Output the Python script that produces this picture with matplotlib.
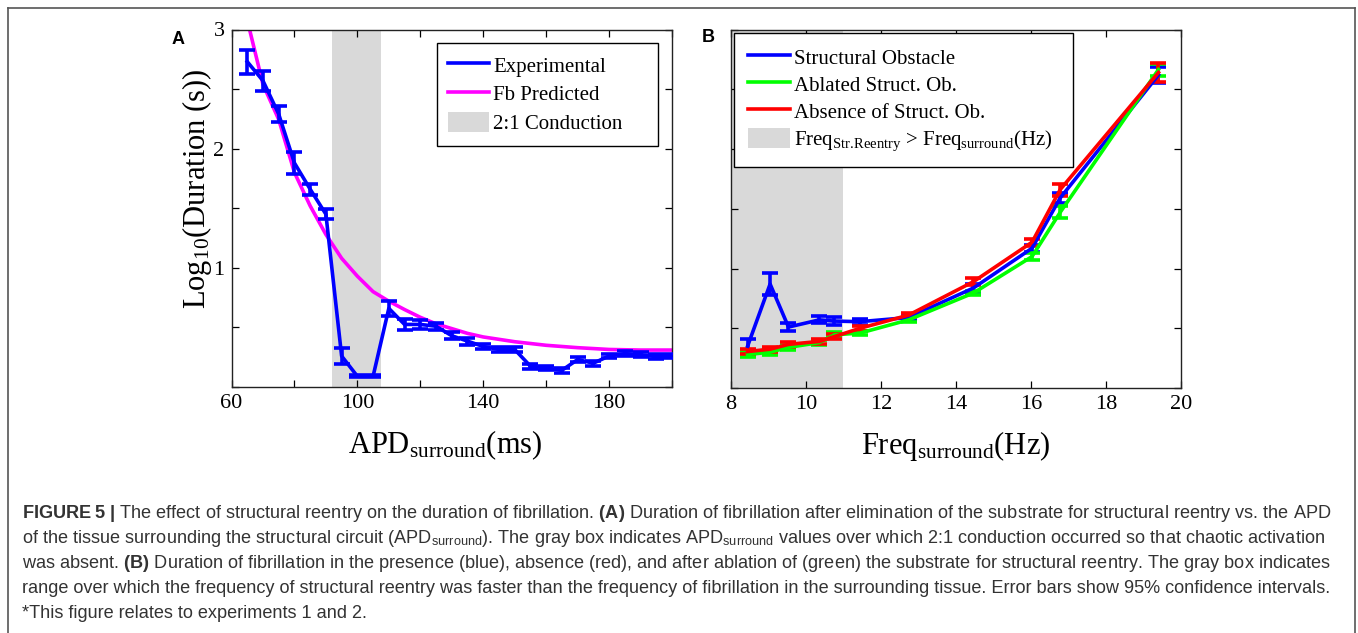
import matplotlib
matplotlib.use('Agg')
import matplotlib.pyplot as plt
from matplotlib.lines import Line2D
from matplotlib.patches import Patch

# ---------------- data: panel A ----------------
apd = [65, 70, 75, 80, 85, 90, 95, 100, 105, 110, 115, 120, 125, 130, 135,
       140, 145, 150, 155, 160, 165, 170, 175, 180, 185, 190, 195, 200]
dur_exp = [2.73, 2.57, 2.29, 1.88, 1.66, 1.45, 0.26, 0.09, 0.09, 0.66, 0.525,
           0.525, 0.51, 0.43, 0.385, 0.34, 0.315, 0.315, 0.175, 0.16, 0.14,
           0.23, 0.20, 0.26, 0.28, 0.27, 0.255, 0.26]
dur_exp_err = [0.10, 0.085, 0.065, 0.09, 0.045, 0.04, 0.07, 0.01, 0.01, 0.065,
               0.045, 0.035, 0.03, 0.03, 0.03, 0.02, 0.02, 0.02, 0.02, 0.02,
               0.02, 0.02, 0.02, 0.02, 0.02, 0.02, 0.02, 0.02]
apd_pred = [65, 70, 75, 80, 85, 90, 95, 100, 105, 110, 115, 120, 125, 130,
            135, 140, 150, 160, 170, 180, 190, 200]
dur_pred = [3.08, 2.54, 2.245, 1.80, 1.52, 1.28, 1.08, 0.93, 0.80, 0.72, 0.65,
            0.585, 0.53, 0.49, 0.45, 0.42, 0.38, 0.35, 0.33, 0.315, 0.31, 0.31]
band_a = [92, 107.5]
xticks_a = [60, 80, 100, 120, 140, 160, 180, 200]
xlabels_a = ['60', '', '100', '', '140', '', '180', '']
yticks = [0, 0.5, 1, 1.5, 2, 2.5, 3]
ylabels_a = ['', '', '1', '', '2', '', '3']

# ---------------- data: panel B ----------------
freq = [8.45, 9.05, 9.54, 10.36, 10.76, 11.45, 12.74, 14.47, 16.03, 16.78, 19.4]
dur_struct = [0.35, 0.87, 0.51, 0.57, 0.56, 0.555, 0.59, 0.837, 1.17, 1.59, 2.62]
err_struct = [0.06, 0.09, 0.03, 0.03, 0.03, 0.025, 0.02, 0.03, 0.03, 0.04, 0.07]
dur_ablated = [0.28, 0.30, 0.34, 0.38, 0.445, 0.46, 0.57, 0.795, 1.10, 1.47, 2.665]
err_ablated = [0.02, 0.02, 0.02, 0.02, 0.02, 0.02, 0.02, 0.02, 0.03, 0.05, 0.05]
dur_absent = [0.305, 0.325, 0.365, 0.39, 0.43, 0.50, 0.61, 0.89, 1.22, 1.66, 2.64]
err_absent = [0.02, 0.02, 0.02, 0.02, 0.02, 0.02, 0.02, 0.03, 0.03, 0.05, 0.077]
band_b = [8, 11]
xticks_b = [8, 10, 12, 14, 16, 18, 20]

caption_lines = [
    r'$\mathbf{FIGURE\ 5\ |}$ The effect of structural reentry on the duration of fibrillation. '
    r'$\mathbf{(A)}$ Duration of fibrillation after elimination of the substrate for structural reentry vs. the APD',
    r'of the tissue surrounding the structural circuit (APD$_{\mathsf{surround}}$). The gray box indicates '
    r'APD$_{\mathsf{surround}}$ values over which 2:1 conduction occurred so that chaotic activation',
    r'was absent. $\mathbf{(B)}$ Duration of fibrillation in the presence (blue), absence (red), and after '
    r'ablation of (green) the substrate for structural reentry. The gray box indicates',
    r'range over which the frequency of structural reentry was faster than the frequency of fibrillation '
    r'in the surrounding tissue. Error bars show 95% confidence intervals.',
    r'*This figure relates to experiments 1 and 2.',
]

# ---------------- style ----------------
SERIF = 'Liberation Serif'
SANS = 'Liberation Sans'
plt.rcParams['font.family'] = [SERIF, 'DejaVu Serif']
plt.rcParams['mathtext.fontset'] = 'custom'
plt.rcParams['mathtext.rm'] = SERIF
plt.rcParams['mathtext.it'] = SERIF + ':italic'
plt.rcParams['mathtext.sf'] = SANS
plt.rcParams['mathtext.bf'] = SANS + ':bold'

W, H = 1358, 633
fig = plt.figure(figsize=(W / 100, H / 100), dpi=100)
fig.patch.set_facecolor('white')


def px_axes(l, t, r, b):
    return fig.add_axes([l / W, 1 - b / H, (r - l) / W, (b - t) / H])


axA = px_axes(231.5, 29.5, 672, 387)
axB = px_axes(730.7, 29.5, 1181, 388)

LW = 2.6
GRAY = '#d9d9d9'

# panel A
axA.axvspan(band_a[0], band_a[1], color=GRAY, lw=0, zorder=0)
axA.plot(apd_pred, dur_pred, color=(1, 0, 1), lw=LW, zorder=2)
axA.errorbar(apd, dur_exp, yerr=dur_exp_err, color=(0, 0, 1), lw=LW,
             elinewidth=LW, capsize=6, capthick=LW, zorder=3)
axA.set_xlim(60, 200)
axA.set_ylim(0, 3)
axA.set_xticks(xticks_a)
axA.set_xticklabels(xlabels_a)
axA.set_yticks(yticks)
axA.set_yticklabels(ylabels_a)

# panel B
axB.axvspan(band_b[0], band_b[1], color=GRAY, lw=0, zorder=0)
axB.errorbar(freq, dur_struct, yerr=err_struct, color=(0, 0, 1), lw=LW,
             elinewidth=LW, capsize=6, capthick=LW, zorder=3)
axB.errorbar(freq, dur_ablated, yerr=err_ablated, color=(0, 1, 0), lw=LW,
             elinewidth=LW, capsize=6, capthick=LW, zorder=3)
axB.errorbar(freq, dur_absent, yerr=err_absent, color=(1, 0, 0), lw=LW,
             elinewidth=LW, capsize=6, capthick=LW, zorder=3)
axB.set_xlim(8, 20)
axB.set_ylim(0, 3)
axB.set_xticks(xticks_b)
axB.set_xticklabels([str(v) for v in xticks_b])
axB.set_yticks(yticks)
axB.set_yticklabels([])

for ax in (axA, axB):
    ax.tick_params(direction='in', length=5, width=0.9, top=True, right=True,
                   labelsize=16, pad=5, colors='black')
    for s in ax.spines.values():
        s.set_linewidth(1.0)
        s.set_color('#222222')

axA.set_xlabel(r'APD$_{\mathrm{surround}}$(ms)', fontsize=22)
axA.xaxis.set_label_coords(0.485, -0.115)
axB.set_xlabel(r'Freq$_{\mathrm{surround}}$(Hz)', fontsize=22)
axB.xaxis.set_label_coords(0.5, -0.115)
axA.set_ylabel(r'Log$_{\mathrm{10}}$(Duration (s))', fontsize=22)
axA.yaxis.label.set_verticalalignment('center')
axA.yaxis.set_label_coords(-0.078, 0.554)

# legends
leg_kw = dict(loc='upper left', mode='expand', borderaxespad=0, fontsize=15,
              fancybox=False, framealpha=1, edgecolor='black',
              handletextpad=0.2, handleheight=1.1)
hA = [Line2D([], [], color=(0, 0, 1), lw=LW),
      Line2D([], [], color=(1, 0, 1), lw=LW),
      Patch(facecolor=GRAY, edgecolor='none')]
legA = axA.legend(hA, ['Experimental', 'Fb Predicted', '2:1 Conduction'],
                  bbox_to_anchor=(0.4665, 0.6825, 0.5015, 0.2795),
                  handlelength=1.95, borderpad=0.55, labelspacing=0.32, **leg_kw)
legA.get_frame().set_linewidth(1.0)

hB = [Line2D([], [], color=(0, 0, 1), lw=LW),
      Line2D([], [], color=(0, 1, 0), lw=LW),
      Line2D([], [], color=(1, 0, 0), lw=LW),
      Patch(facecolor=GRAY, edgecolor='none')]
legB = axB.legend(hB, ['Structural Obstacle', 'Ablated Struct. Ob.',
                       'Absence of Struct. Ob.',
                       r'Freq$_{\mathrm{Str.\!Reentry}}$ > Freq$_{\mathrm{surround}}$(Hz)'],
                  bbox_to_anchor=(0.0073, 0.611, 0.7527, 0.379),
                  handlelength=2.05, borderpad=0.65, labelspacing=0.24, **leg_kw)
legB.get_frame().set_linewidth(1.0)

# panel letters
fig.text(178 / W, 1 - 39 / H, 'A', fontfamily=SANS, fontweight='bold',
         fontsize=13, ha='center', va='center')
fig.text(708 / W, 1 - 38 / H, 'B', fontfamily=SANS, fontweight='bold',
         fontsize=13, ha='center', va='center')

# outer frame
for xs, ys in (([8, 8], [8, H + 5]), ([8, 1355], [8, 8]), ([1355, 1355], [8, H + 5])):
    fig.add_artist(Line2D([x / W for x in xs], [1 - y / H for y in ys],
                          color='#555555', lw=1.2, transform=fig.transFigure))

# caption with width fitting
renderer = fig.canvas.get_renderer()
probe = fig.text(0, 0, caption_lines[0], fontfamily=SANS, fontsize=12)
w12 = probe.get_window_extent(renderer=renderer).width
probe.remove()
cap_size = 12 * (1326 - 22) / w12
baselines = [518, 543, 568, 593, 618]
for line, yb in zip(caption_lines, baselines):
    fig.text(22 / W, 1 - yb / H, line, fontfamily=SANS, fontsize=cap_size,
             color='#333333', ha='left', va='baseline')

fig.savefig('out.png', dpi=100)
